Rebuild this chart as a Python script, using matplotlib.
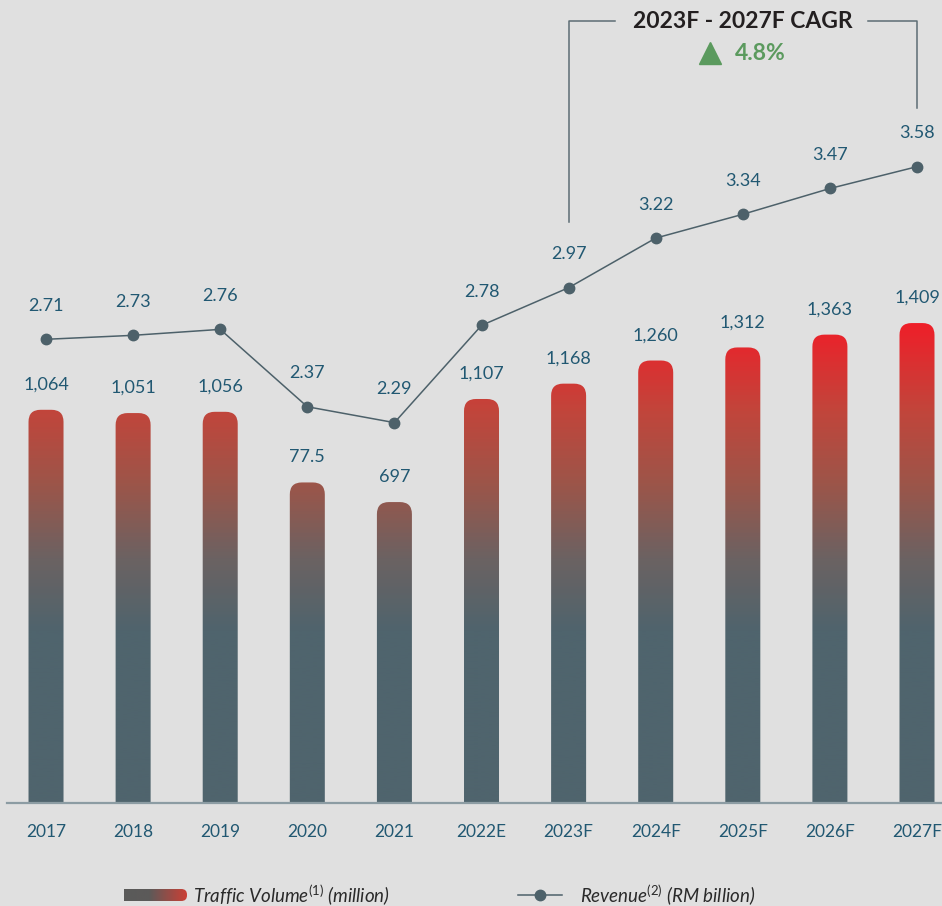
import numpy as np
import matplotlib.pyplot as plt
from matplotlib.colors import LinearSegmentedColormap
from matplotlib.patches import FancyBboxPatch
from matplotlib.lines import Line2D

years = ['2017', '2018', '2019', '2020', '2021', '2022E', '2023F',
         '2024F', '2025F', '2026F', '2027F']
traffic = [1064, 1051, 1056, 775, 697, 1107, 1168, 1260, 1312, 1363, 1409]
traffic_labels = ['1,064', '1,051', '1,056', '77.5', '697', '1,107', '1,168',
                  '1,260', '1,312', '1,363', '1,409']
revenue = [2.71, 2.73, 2.76, 2.37, 2.29, 2.78, 2.97, 3.22, 3.34, 3.47, 3.58]
cagr_title = '2023F - 2027F CAGR'
cagr_value = '4.8%'

plt.rcParams['font.family'] = ['Lato', 'DejaVu Sans']
plt.rcParams['mathtext.fontset'] = 'custom'
plt.rcParams['mathtext.it'] = 'Lato:italic'
plt.rcParams['mathtext.rm'] = 'Lato'

bg = '#e0e0e0'
teal = '#215872'
slate = '#4f646d'
line_col = '#4d616a'

W, H = 942, 906
fig = plt.figure(figsize=(W / 100, H / 100), dpi=100)
fig.patch.set_facecolor(bg)

# main axes: left edge at 7px, baseline at 803px from top
ax = fig.add_axes([7 / W, (H - 803) / H, (W - 7) / W, 803 / H])
ax.set_facecolor('none')
xlim = (-0.448, 10.287)
ylim = (-500, 2694)
ax.set_xlim(*xlim)
ax.set_ylim(*ylim)

# vertical gradient fixed to the axes height (slate at bottom, red at top)
cmap = LinearSegmentedColormap.from_list('bars', [
    (0.0, slate), (0.212, slate), (0.303, '#6b6262'), (0.398, '#9d5549'),
    (0.489, '#c2453b'), (0.598, '#ef1f29'), (1.0, '#f41c26')])
grad = np.linspace(0, 1, 600).reshape(-1, 1)

px_x = (W - 7) / (xlim[1] - xlim[0])
px_y = 803 / (ylim[1] - ylim[0])
bar_w = 35 / px_x
radius = 12 / px_x
aspect = px_x / px_y

for i, v in enumerate(traffic):
    patch = FancyBboxPatch((i - bar_w / 2, ylim[0] - 200), bar_w, v - ylim[0] + 200,
                           boxstyle=f'round,pad=0,rounding_size={radius}',
                           mutation_aspect=aspect, transform=ax.transData,
                           facecolor='none', edgecolor='none')
    ax.add_patch(patch)
    im = ax.imshow(grad, cmap=cmap, extent=(*xlim, *ylim), origin='lower',
                   aspect='auto', zorder=1)
    im.set_clip_path(patch)
    ax.annotate(traffic_labels[i], (i, v), xytext=(0, 18), textcoords='offset points',
                ha='center', va='center', fontsize=13, color=teal)

ax.set_xlim(*xlim)
ax.set_ylim(*ylim)
for s in ['top', 'left', 'right']:
    ax.spines[s].set_visible(False)
ax.spines['bottom'].set_color('#8c9ca3')
ax.spines['bottom'].set_linewidth(1.6)
ax.spines['bottom'].set_zorder(3)
ax.set_xticks(range(len(years)), years)
ax.set_yticks([])
ax.tick_params(axis='x', length=0, pad=15, labelsize=12.5, labelcolor=teal)

# revenue line on a second scale
ax2 = ax.twinx()
ax2.set_ylim(0.373, 4.42)
ax2.set_yticks([])
for s in ax2.spines.values():
    s.set_visible(False)
ax2.plot(range(len(years)), revenue, color=line_col, lw=1.1, marker='o',
         markersize=7.5, markerfacecolor=line_col, markeredgecolor=line_col)
for i, v in enumerate(revenue):
    ax2.annotate(f'{v:.2f}', (i, v), xytext=(0, 24), textcoords='offset points',
                 ha='center', va='center', fontsize=13, color=teal)

# CAGR bracket
to_fig = ax.transData + fig.transFigure.inverted()
x23 = to_fig.transform((6, 0))[0]
x27 = to_fig.transform((10, 0))[0]
fy = lambda y: 1 - y / H
fx = lambda x: x / W
br = '#5d6d74'
fig.add_artist(Line2D([x23, x23, fx(615)], [fy(222), fy(21), fy(21)], color=br, lw=1.1))
fig.add_artist(Line2D([fx(868), x27, x27], [fy(21), fy(21), fy(108)], color=br, lw=1.1))
fig.text(fx(743), fy(21), cagr_title, ha='center', va='center',
         fontsize=16.5, fontweight='bold', color='#231f20')
fig.add_artist(Line2D([fx(710)], [fy(53)], marker='^', markersize=16, color='#5b9a5e',
                      markeredgecolor='#5b9a5e'))
fig.text(fx(735), fy(54), cagr_value, ha='left', va='center', fontsize=16.5,
         fontweight='bold', color='#5b9a5e')

# legend
lax = fig.add_axes([124 / W, 1 - 901 / H, 63 / W, 12 / H])
lax.set_xlim(0, 1)
lax.set_ylim(0, 1)
lax.axis('off')
lcmap = LinearSegmentedColormap.from_list('leg', [(0, '#5a5a5a'), (0.4, '#5c5a59'), (1, '#cb4036')])
lpatch = FancyBboxPatch((-0.5, 0), 1.5, 1, boxstyle='round,pad=0,rounding_size=0.09',
                        mutation_aspect=63 / 12, transform=lax.transData,
                        facecolor='none', edgecolor='none')
lax.add_patch(lpatch)
lim = lax.imshow(np.linspace(0, 1, 200).reshape(1, -1), cmap=lcmap, extent=(0, 1, 0, 1),
                 aspect='auto')
lim.set_clip_path(lpatch)
fig.text(fx(193), fy(895), 'Traffic Volume$^{\\mathit{(1)}}$ (million)', ha='left',
         va='center', fontsize=13.5, style='italic', color='#2a2a2a')
fig.add_artist(Line2D([fx(518), fx(562)], [fy(895), fy(895)], color=line_col, lw=1.1))
fig.add_artist(Line2D([fx(540)], [fy(895)], marker='o', markersize=7.5, color=line_col))
fig.text(fx(580), fy(895), 'Revenue$^{\\mathit{(2)}}$ (RM billion)', ha='left',
         va='center', fontsize=13.5, style='italic', color='#2a2a2a')

fig.savefig('out.png', dpi=100, facecolor=bg)
